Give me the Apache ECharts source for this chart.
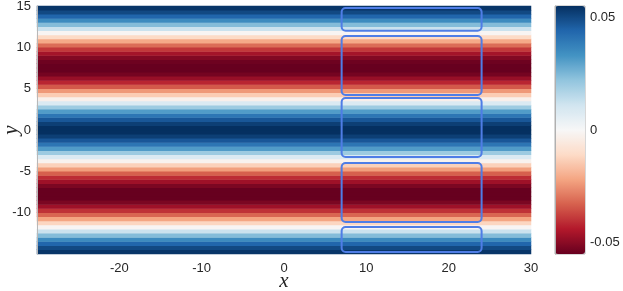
<!DOCTYPE html>
<html>
<head>
<meta charset="utf-8">
<script src="https://cdn.jsdelivr.net/npm/echarts@6/dist/echarts.min.js"></script>
<style>
html,body{margin:0;padding:0;background:#fff;}
#chart{width:623px;height:291px;}
</style>
</head>
<body>
<div id="chart"></div>
<script>
// Row centres (y) from bottom to top, and the field value read for each row
const rowY = [-14.75,-14.25,-13.75,-13.25,-12.75,-12.25,-11.75,-11.25,-10.75,-10.25,
  -9.75,-9.25,-8.75,-8.25,-7.75,-7.25,-6.75,-6.25,-5.75,-5.25,
  -4.75,-4.25,-3.75,-3.25,-2.75,-2.25,-1.75,-1.25,-0.75,-0.25,
  0.25,0.75,1.25,1.75,2.25,2.75,3.25,3.75,4.25,4.75,
  5.25,5.75,6.25,6.75,7.25,7.75,8.25,8.75,9.25,9.75,
  10.25,10.75,11.25,11.75,12.25,12.75,13.25,13.75,14.25,14.75];
const rowValues = [0.054,0.050,0.044,0.035,0.024,0.012,-0.001,-0.012,-0.022,-0.032,
  -0.040,-0.047,-0.052,-0.055,-0.056,-0.055,-0.052,-0.047,-0.041,-0.033,
  -0.023,-0.013,-0.002,0.008,0.020,0.031,0.040,0.047,0.052,0.055,
  0.055,0.052,0.047,0.040,0.031,0.020,0.008,-0.003,-0.014,-0.024,
  -0.034,-0.042,-0.048,-0.053,-0.055,-0.056,-0.054,-0.051,-0.046,-0.039,
  -0.031,-0.021,-0.011,-0.001,0.012,0.024,0.035,0.044,0.050,0.054];
const xColumns = ['all'];
// Boxes: [xLeft, xRight, yTop, yBottom]
const boxes = [
  [7, 24, 14.75, 12.0],
  [7, 24, 11.37, 4.23],
  [7, 24, 3.87, -3.26],
  [7, 24, -3.99, -11.12],
  [7, 24, -11.73, -14.75]
];
const xTicks = [-20, -10, 0, 10, 20, 30];
const yTicks = [-10, -5, 0, 5, 10, 15];
const cbTicks = [-0.05, 0, 0.05];
const cbMin = -0.055, cbMax = 0.055;

const palette = ['#67001f','#b2182b','#d6604d','#f4a582','#fddbc7','#f7f7f7','#d1e5f0','#92c5de','#4393c3','#2166ac','#053061'];

const heatData = [];
rowY.forEach((y, i) => {
  xColumns.forEach((c, j) => heatData.push([j, i, rowValues[i]]));
});

const labelFont = {fontFamily: 'Liberation Sans, Arial, sans-serif', fontSize: 13, color: '#262626'};
const nameFont = {fontFamily: 'Liberation Serif, DejaVu Serif, serif', fontStyle: 'italic', fontSize: 21, color: '#262626'};

const chart = echarts.init(document.getElementById('chart'));
chart.setOption({
  animation: false,
  grid: [
    {left: 37, top: 6, width: 494, height: 248, outerBoundsMode: 'none', containLabel: false},
    {left: 555, top: 6, width: 30, height: 248, outerBoundsMode: 'none', containLabel: false,
     show: true, borderColor: '#b0b0b0', borderWidth: 1, backgroundColor: 'transparent'}
  ],
  xAxis: [
    {type: 'category', gridIndex: 0, data: xColumns, show: false},
    {type: 'value', gridIndex: 0, min: -30, max: 30, position: 'bottom',
     axisLine: {show: false}, splitLine: {show: false},
     axisTick: {show: false},
     axisLabel: {customValues: xTicks, margin: 8, ...labelFont},
     name: 'x', nameLocation: 'middle', nameGap: 17, nameMoveOverlap: false, nameTextStyle: nameFont},
    {type: 'value', gridIndex: 1, min: 0, max: 1, show: false}
  ],
  yAxis: [
    {type: 'category', gridIndex: 0, data: rowY, show: false},
    {type: 'value', gridIndex: 0, min: -15, max: 15, position: 'left', z: 10,
     axisLine: {show: true, lineStyle: {color: '#b8b8b8', width: 1}},
     splitLine: {show: false},
     axisTick: {show: false},
     axisLabel: {customValues: yTicks, margin: 6, ...labelFont},
     name: 'y', nameLocation: 'middle', nameRotate: 90, nameGap: 15, nameMoveOverlap: false, nameTextStyle: nameFont},
    {type: 'value', gridIndex: 1, min: cbMin, max: cbMax, position: 'right', z: 10,
     axisLine: {show: true, lineStyle: {color: '#b0b0b0'}},
     splitLine: {show: false},
     axisTick: {show: false},
     axisLabel: {customValues: cbTicks, margin: 5, ...labelFont, formatter: v => (v === 0 ? '0' : String(v))}}
  ],
  visualMap: {
    type: 'continuous', seriesIndex: 0, min: cbMin, max: cbMax,
    calculable: false, realtime: false, show: true,
    left: 555, top: 6, itemWidth: 30, itemHeight: 248, padding: 0,
    text: null, textGap: 0,
    inRange: {color: palette}
  },
  series: [
    {type: 'heatmap', xAxisIndex: 0, yAxisIndex: 0, data: heatData, progressive: 0, emphasis: {disabled: true}},
    {type: 'custom', xAxisIndex: 1, yAxisIndex: 1, data: boxes, z: 5, silent: true,
     encode: {x: [0, 1], y: [2, 3]},
     renderItem: function (params, api) {
       const p0 = api.coord([api.value(0), api.value(2)]);
       const p1 = api.coord([api.value(1), api.value(3)]);
       return {
         type: 'rect',
         shape: {x: p0[0], y: p0[1], width: p1[0] - p0[0], height: p1[1] - p0[1], r: 4},
         style: {fill: 'none', stroke: '#4f7de6', lineWidth: 2}
       };
     }}
  ]
});
</script>
</body>
</html>
